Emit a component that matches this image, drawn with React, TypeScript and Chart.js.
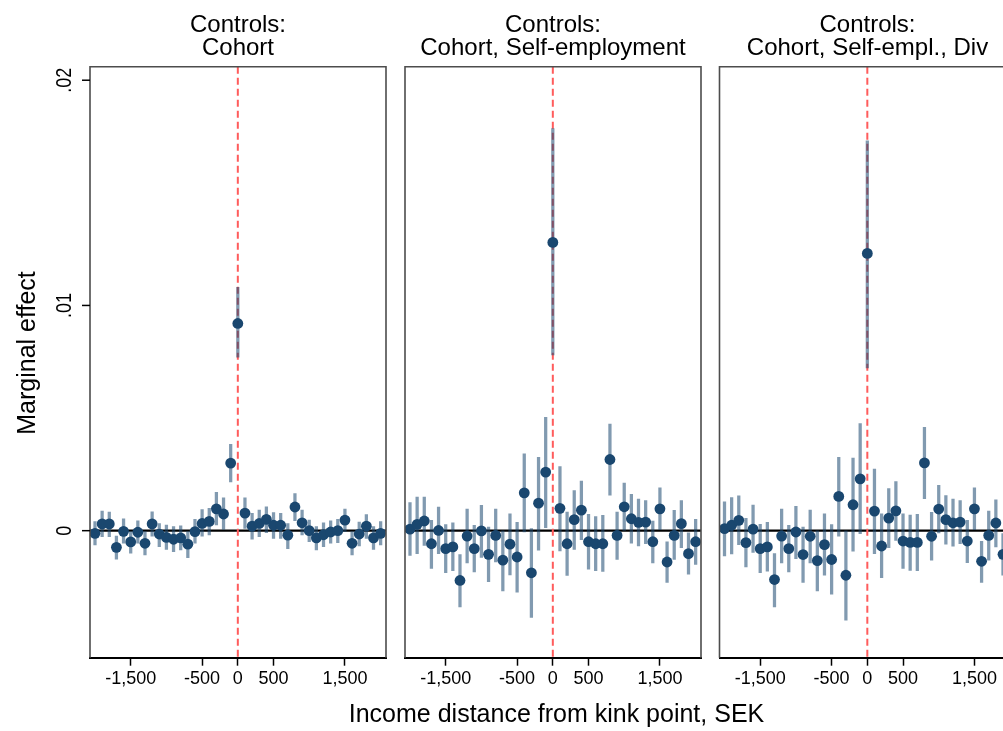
import React, { useEffect, useRef } from 'react';
import Chart from 'chart.js/auto';

// income distance from the kink point, 100 SEK bins
const distance = [
  -2000, -1900, -1800, -1700, -1600, -1500, -1400, -1300, -1200, -1100, -1000,
  -900, -800, -700, -600, -500, -400, -300, -200, -100, 0,
  100, 200, 300, 400, 500, 600, 700, 800, 900, 1000,
  1100, 1200, 1300, 1400, 1500, 1600, 1700, 1800, 1900, 2000,
];

// Controls: Cohort
const cohortEst = [
  -0.00012, 0.0003, 0.0003, -0.00074, -0.00003, -0.0005, -0.00007, -0.00056, 0.0003, -0.00015, -0.0003,
  -0.00038, -0.00032, -0.0006, -0.00004, 0.00032, 0.00041, 0.00097, 0.00074, 0.003, 0.0092,
  0.00078, 0.0002, 0.00032, 0.0005, 0.00024, 0.00024, -0.0002, 0.00105, 0.00035, 0,
  -0.00032, -0.00018, -0.00006, 0, 0.00047, -0.00056, -0.00015, 0.0002, -0.00032, -0.00012,
];
const cohortLo = [
  -0.00063, -0.00027, -0.00027, -0.00127, -0.00056, -0.001, -0.00056, -0.00108, -0.00024, -0.00071, -0.00083,
  -0.00093, -0.00086, -0.0012, -0.00056, -0.00024, -0.00019, 0.00025, 0.00006, 0.00217, 0.0077,
  0.0001, -0.00038, -0.00027, -0.00009, -0.00034, -0.00034, -0.0008, 0.00044, -0.00019, -0.00049,
  -0.00086, -0.00071, -0.00056, -0.00053, -0.00004, -0.00108, -0.00068, -0.00034, -0.00083, -0.00063,
];
const cohortHi = [
  0.0004, 0.00087, 0.00083, -0.00024, 0.00053, -0.00004, 0.00044, -0.00004, 0.00084, 0.00032, 0.00025,
  0.00018, 0.00021, -0.00004, 0.0005, 0.00094, 0.00099, 0.0017, 0.00146, 0.00383, 0.0108,
  0.00146, 0.00077, 0.00091, 0.00106, 0.0008, 0.00077, 0.00032, 0.00165, 0.00091, 0.00047,
  0.00018, 0.00035, 0.00044, 0.0005, 0.00096, -0.00004, 0.00038, 0.00071, 0.00018, 0.0004,
];

// Controls: Cohort, Self-employment
const selfEst = [
  0.00007, 0.00028, 0.00043, -0.00058, 0.00001, -0.0008, -0.00072, -0.00221, -0.00024, -0.0008, -0.00001,
  -0.00105, -0.00021, -0.00131, -0.0006, -0.00117, 0.00168, -0.00187, 0.00122, 0.0026, 0.0128,
  0.00099, -0.00058, 0.00049, 0.00091, -0.00049, -0.00058, -0.00058, 0.00316, -0.00021, 0.00106,
  0.00053, 0.00037, 0.00038, -0.00049, 0.00097, -0.00139, -0.00021, 0.00031, -0.00102, -0.00049,
];
const selfLo = [
  -0.0011, -0.00102, -0.00065, -0.00168, -0.00102, -0.00186, -0.00178, -0.00338, -0.00143, -0.00183, -0.00119,
  -0.00226, -0.00139, -0.00267, -0.00196, -0.00273, -0.00006, -0.00385, -0.00087, 0.00013, 0.0078,
  -0.0009, -0.00199, -0.00083, -0.0004, -0.00171, -0.00178, -0.00181, 0.00158, -0.00128, 0.00001,
  -0.00055, -0.00068, -0.00058, -0.00143, 0.00004, -0.0023, -0.00128, -0.00075, -0.00193, -0.0015,
];
const selfHi = [
  0.00125, 0.00149, 0.00149, 0.00046, 0.00105, 0.00027, 0.00035, -0.00106, 0.00096, 0.00024, 0.00112,
  0.00016, 0.00096, -0.00001, 0.00075, 0.00037, 0.00341, 0.00009, 0.00326, 0.00503, 0.01785,
  0.00285, 0.00083, 0.00178, 0.0022, 0.00072, 0.00063, 0.00068, 0.00473, 0.00083, 0.00211,
  0.00161, 0.0014, 0.00134, 0.00043, 0.0019, -0.00049, 0.0009, 0.00134, -0.0001, 0.0005,
];

// Controls: Cohort, Self-empl., Div
const divEst = [
  0.00009, 0.00024, 0.00046, -0.00053, 0.00007, -0.0008, -0.00072, -0.00217, -0.00024, -0.0008, -0.00006,
  -0.00106, -0.00025, -0.00133, -0.00062, -0.00128, 0.00152, -0.00198, 0.00115, 0.0023, 0.01231,
  0.00087, -0.00068, 0.00056, 0.00088, -0.00046, -0.00052, -0.00052, 0.00301, -0.00025, 0.00096,
  0.00049, 0.00035, 0.00038, -0.00046, 0.00097, -0.00136, -0.00021, 0.00034, -0.00105, -0.0005,
];
const divLo = [
  -0.00112, -0.00103, -0.00062, -0.00161, -0.00097, -0.00187, -0.0018, -0.00338, -0.00143, -0.00183, -0.00124,
  -0.0023, -0.00143, -0.00267, -0.00198, -0.00282, -0.00024, -0.00397, -0.00091, -0.00013, 0.00723,
  -0.00102, -0.00209, -0.00075, -0.00043, -0.00168, -0.00176, -0.00178, 0.00142, -0.00131, -0.0001,
  -0.0006, -0.00069, -0.00058, -0.00142, 0.00004, -0.0023, -0.00131, -0.00072, -0.00198, -0.0015,
];
const divHi = [
  0.00128, 0.00147, 0.00155, 0.00055, 0.00114, 0.00028, 0.00037, -0.00102, 0.00096, 0.00024, 0.00108,
  0.00016, 0.00091, -0.00001, 0.00075, 0.00027, 0.00326, -0.00001, 0.00322, 0.00476, 0.01731,
  0.00273, 0.00075, 0.00187, 0.00218, 0.00075, 0.00069, 0.00072, 0.00459, 0.00081, 0.00201,
  0.00156, 0.0014, 0.00134, 0.00046, 0.0019, -0.00047, 0.00087, 0.00137, -0.00013, 0.0005,
];

const panelTitles = [
  ['Controls:', 'Cohort'],
  ['Controls:', 'Cohort, Self-employment'],
  ['Controls:', 'Cohort, Self-empl., Div'],
];
const xTicks = [-1500, -500, 0, 500, 1500];
const xTickLabels = ['-1,500', '-500', '0', '500', '1,500'];
const yTicks = [0, 0.01, 0.02];
const yTickLabels = ['0', '.01', '.02'];
const xTitle = 'Income distance from kink point, SEK';
const yTitle = 'Marginal effect';

const panels = [
  { est: cohortEst, lo: cohortLo, hi: cohortHi },
  { est: selfEst, lo: selfLo, hi: selfHi },
  { est: divEst, lo: divLo, hi: divHi },
];

const FONT = '"Liberation Sans", Arial, Helvetica, sans-serif';
const CANVAS_W = 1113;
const CANVAS_H = 731;
const PLOT_TOP = 66.7;
const PLOT_BOTTOM = 660.7;
const frames = [
  { left: 90, right: 386 },
  { left: 405, right: 701 },
  { left: 719.5, right: 1015.5 },
];

function makePlugin(index: number) {
  return {
    id: 'stataPanel',
    beforeDatasetsDraw(chart: any) {
      const { ctx, chartArea: a, scales } = chart;
      const y0 = scales.y.getPixelForValue(0);
      const x0 = scales.x.getPixelForValue(0);
      ctx.save();
      ctx.strokeStyle = '#000';
      ctx.lineWidth = 2.2;
      ctx.beginPath();
      ctx.moveTo(a.left, y0);
      ctx.lineTo(a.right, y0);
      ctx.stroke();

      ctx.strokeStyle = '#ff5c5c';
      ctx.lineWidth = 2;
      ctx.setLineDash([7, 4]);
      ctx.beginPath();
      ctx.moveTo(x0, a.top);
      ctx.lineTo(x0, a.bottom);
      ctx.stroke();
      ctx.restore();
    },
    afterDraw(chart: any) {
      const { ctx, chartArea: a, scales } = chart;
      ctx.save();
      // plot region outline (bottom is the x axis line)
      ctx.strokeStyle = '#4d4d4d';
      ctx.lineWidth = 1.6;
      ctx.beginPath();
      ctx.moveTo(a.left, a.bottom);
      ctx.lineTo(a.left, a.top);
      ctx.lineTo(a.right, a.top);
      ctx.lineTo(a.right, a.bottom);
      ctx.stroke();

      // panel title
      ctx.fillStyle = '#000';
      ctx.font = `24px ${FONT}`;
      ctx.textAlign = 'center';
      ctx.textBaseline = 'alphabetic';
      const cx = (a.left + a.right) / 2;
      ctx.fillText(panelTitles[index][0], cx, 31.7);
      ctx.fillText(panelTitles[index][1], cx, 55);

      if (index === 0) {
        // y axis ticks and rotated labels
        ctx.strokeStyle = '#000';
        ctx.lineWidth = 1.5;
        ctx.font = `18px ${FONT}`;
        yTicks.forEach((v, i) => {
          const py = scales.y.getPixelForValue(v);
          ctx.beginPath();
          ctx.moveTo(a.left - 8, py);
          ctx.lineTo(a.left, py);
          ctx.stroke();
          ctx.save();
          ctx.translate(71, py);
          ctx.rotate(-Math.PI / 2);
          ctx.scale(1, 1.18);
          ctx.fillText(yTickLabels[i], 0, 0);
          ctx.restore();
        });

        ctx.font = `25px ${FONT}`;
        ctx.save();
        ctx.translate(35, 353);
        ctx.rotate(-Math.PI / 2);
        ctx.fillText(yTitle, 0, 0);
        ctx.restore();

        ctx.fillText(xTitle, 556.5, 722);
      }
      ctx.restore();
    },
  };
}

function buildConfig(index: number): any {
  const p = panels[index];
  const f = frames[index];
  return {
    type: 'bar',
    data: {
      datasets: [
        {
          type: 'scatter',
          data: distance.map((d, i) => ({ x: d, y: p.est[i] })),
          pointRadius: 5.4,
          pointBackgroundColor: '#1a476f',
          pointBorderWidth: 0,
          showLine: false,
          order: 0,
        },
        {
          type: 'bar',
          data: distance.map((d, i) => ({ x: d, y: [p.lo[i], p.hi[i]] })),
          backgroundColor: 'rgba(26, 71, 111, 0.55)',
          borderWidth: 0,
          barThickness: 2.6,
          grouped: false,
          order: 1,
        },
      ],
    },
    options: {
      responsive: false,
      animation: false,
      events: [],
      layout: {
        padding: {
          left: f.left,
          right: CANVAS_W - f.right,
          top: PLOT_TOP,
          bottom: CANVAS_H - PLOT_BOTTOM - 32.6,
        },
      },
      plugins: {
        legend: { display: false },
        tooltip: { enabled: false },
        title: { display: false },
      },
      scales: {
        x: {
          type: 'linear',
          min: -2070,
          max: 2075,
          offset: false,
          afterBuildTicks: (s: any) => {
            s.ticks = xTicks.map((v) => ({ value: v }));
          },
          ticks: {
            autoSkip: false,
            maxRotation: 0,
            minRotation: 0,
            padding: 3,
            color: '#000',
            font: { family: FONT, size: 18 },
            callback: (v: number) => xTickLabels[xTicks.indexOf(v)],
          },
          grid: {
            display: true,
            offset: false,
            drawOnChartArea: false,
            drawTicks: true,
            tickLength: 8,
            tickColor: '#000',
            tickWidth: 1.5,
          },
          border: { display: true, color: '#000', width: 2 },
        },
        y: {
          type: 'linear',
          min: -0.00564,
          max: 0.0206,
          display: false,
        },
      },
    },
  };
}

const App: React.FC = () => {
  const ref0 = useRef<HTMLCanvasElement | null>(null);
  const ref1 = useRef<HTMLCanvasElement | null>(null);
  const ref2 = useRef<HTMLCanvasElement | null>(null);

  useEffect(() => {
    const charts: Chart[] = [];
    [ref0, ref1, ref2].forEach((r, i) => {
      const ctx = r.current?.getContext('2d');
      if (ctx) {
        charts.push(new Chart(ctx, { ...buildConfig(i), plugins: [makePlugin(i)] }));
      }
    });
    return () => {
      charts.forEach((c) => c.destroy());
    };
  }, []);

  const canvasStyle: React.CSSProperties = { position: 'absolute', left: 0, top: 0 };

  return (
    <div
      style={{
        position: 'fixed',
        left: 0,
        top: 0,
        width: 1003,
        height: 731,
        overflow: 'hidden',
        background: '#fff',
      }}
    >
      <canvas ref={ref0} width={CANVAS_W} height={CANVAS_H} style={canvasStyle} />
      <canvas ref={ref1} width={CANVAS_W} height={CANVAS_H} style={canvasStyle} />
      <canvas ref={ref2} width={CANVAS_W} height={CANVAS_H} style={canvasStyle} />
    </div>
  );
};

export default App;
